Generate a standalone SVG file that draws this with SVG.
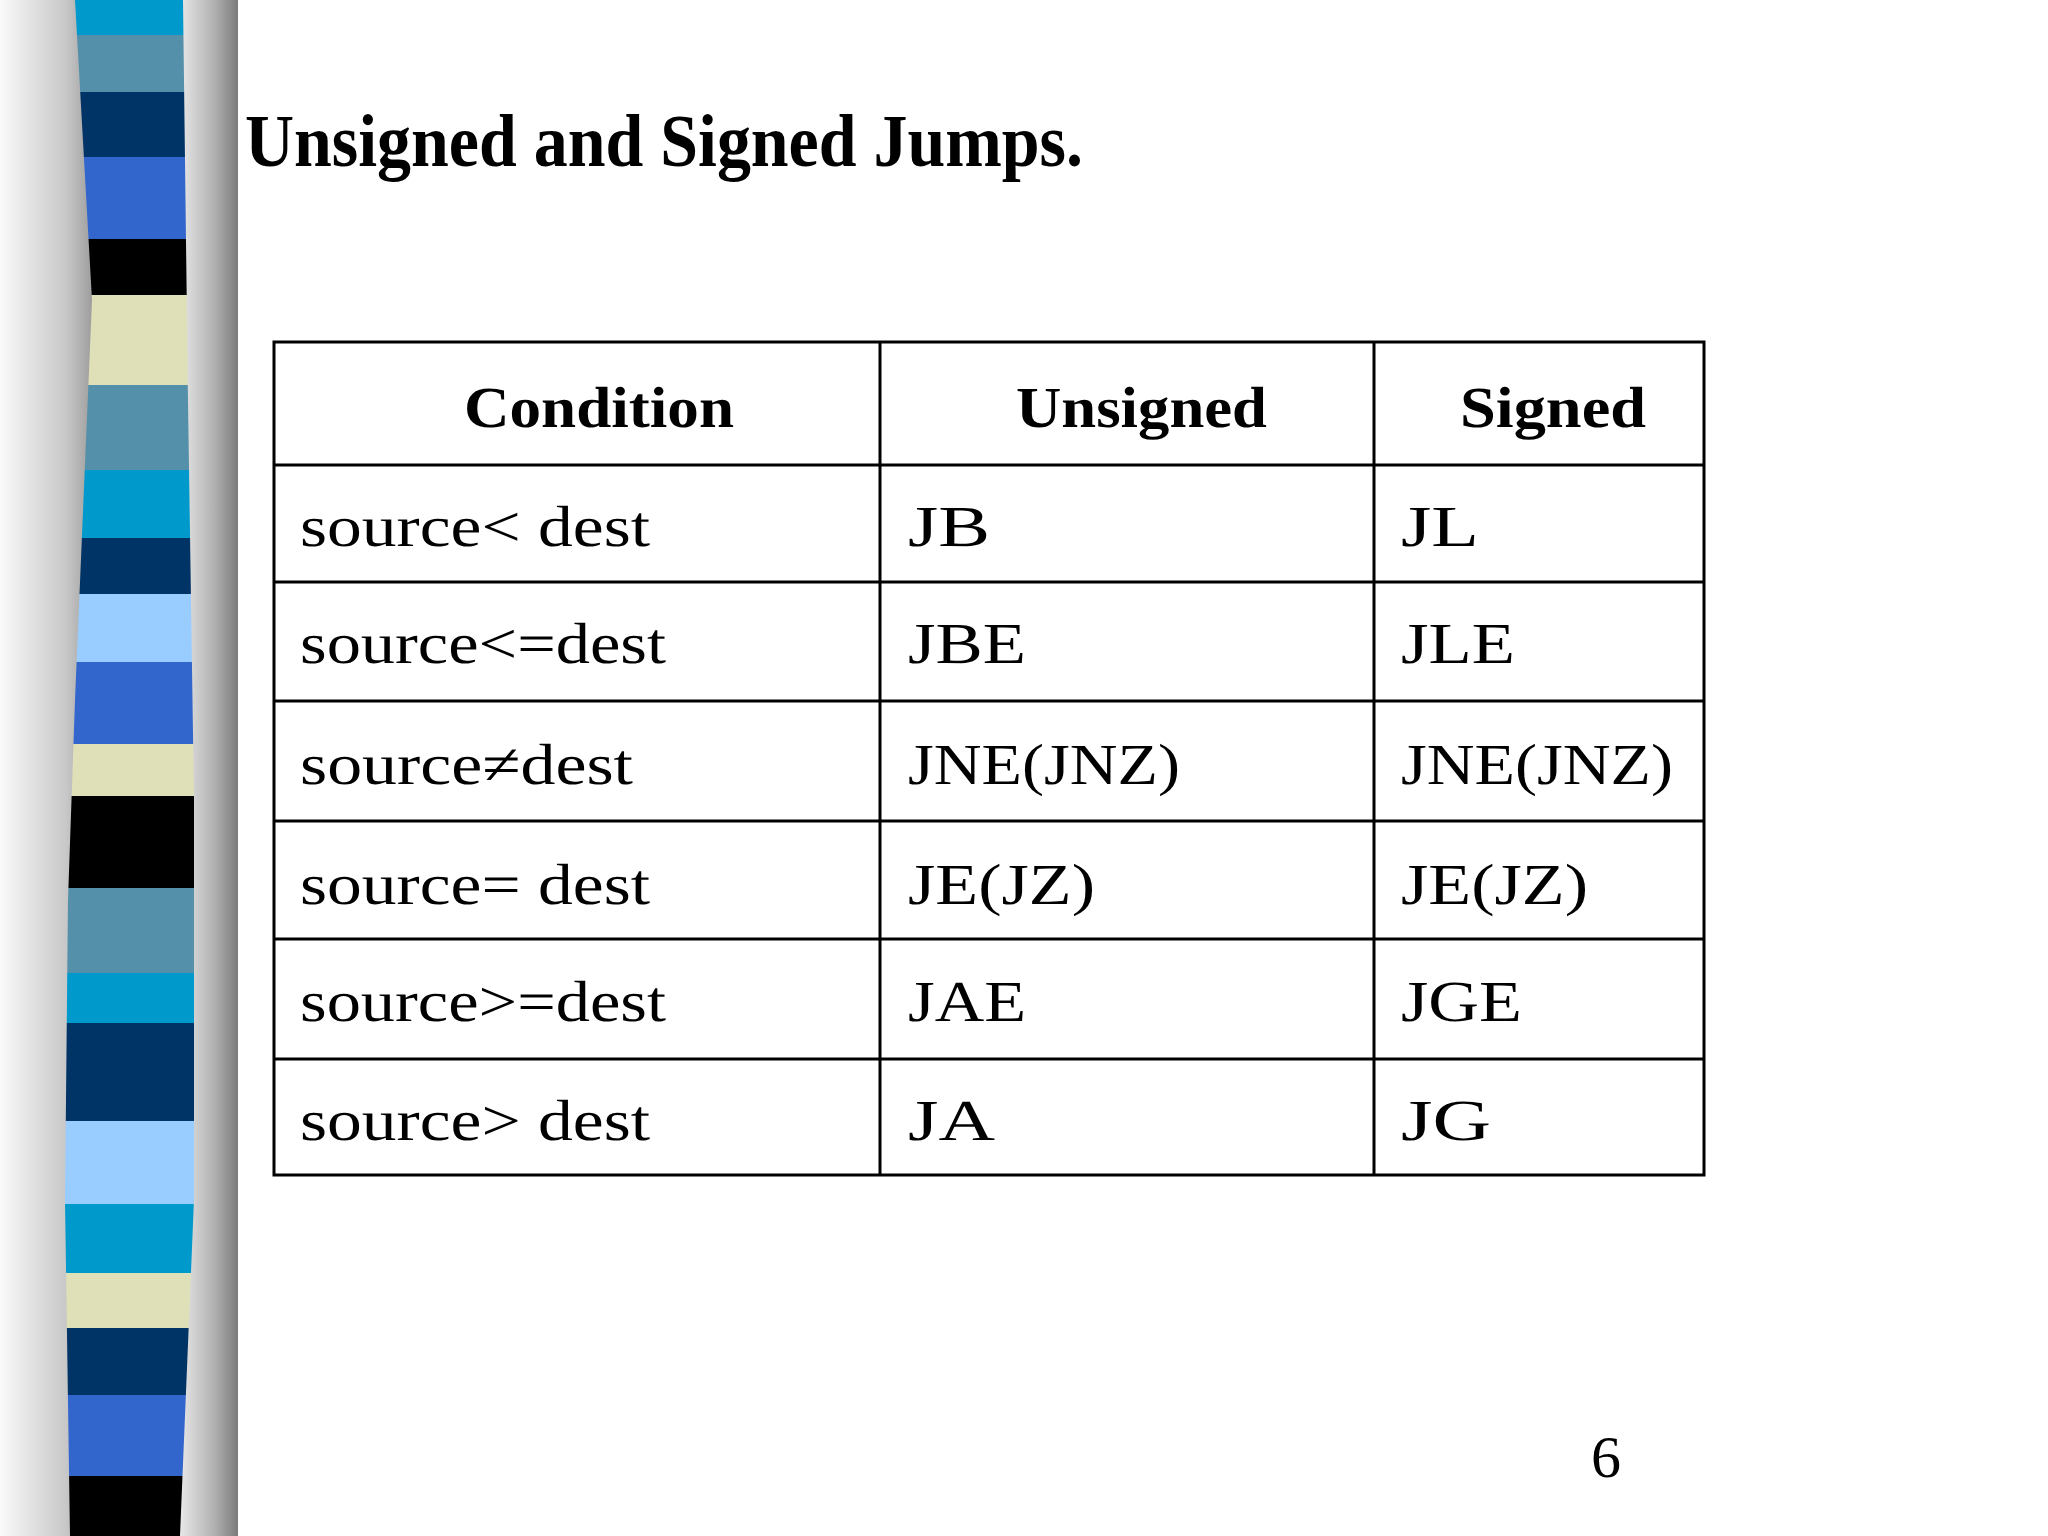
<svg xmlns="http://www.w3.org/2000/svg" width="2048" height="1536" viewBox="0 0 2048 1536">
<defs>
<linearGradient id="gl" x1="0" x2="1" y1="0" y2="0"><stop offset="0" stop-color="#fafafa"/><stop offset="0.6" stop-color="#c8c8c8"/><stop offset="1" stop-color="#808080"/></linearGradient>
<linearGradient id="gr" x1="0" x2="1" y1="0" y2="0"><stop offset="0" stop-color="#e8e8e8"/><stop offset="0.6" stop-color="#b0b0b0"/><stop offset="1" stop-color="#7a7a7a"/></linearGradient>
<clipPath id="sc"><path d="M75,0 L183,0 L188,400 L194,800 L194,1200 L180,1536 L70,1536 L65,1200 L68,900 L75,700 L92,300 Z"/></clipPath>
<style>
.t{font-family:"Liberation Serif",serif;font-size:58px;fill:#000}
.h{font-family:"Liberation Serif",serif;font-size:58px;font-weight:bold;fill:#000}
.g line{stroke:#000;stroke-width:3}
</style>
</defs>
<rect width="2048" height="1536" fill="#fff"/>
<g id="sidebar">
<rect x="0" y="0" width="110" height="1536" fill="url(#gl)"/>
<rect x="180" y="0" width="58" height="1536" fill="url(#gr)"/>
<g clip-path="url(#sc)">
<rect x="0" y="0" width="240" height="35" fill="#0099cc"/>
<rect x="0" y="35" width="240" height="57" fill="#5590aa"/>
<rect x="0" y="92" width="240" height="65" fill="#003366"/>
<rect x="0" y="157" width="240" height="82" fill="#3366cc"/>
<rect x="0" y="239" width="240" height="56" fill="#000"/>
<rect x="0" y="295" width="240" height="90" fill="#e0e0b8"/>
<rect x="0" y="385" width="240" height="85" fill="#5590aa"/>
<rect x="0" y="470" width="240" height="68" fill="#0099cc"/>
<rect x="0" y="538" width="240" height="56" fill="#003366"/>
<rect x="0" y="594" width="240" height="68" fill="#99ccff"/>
<rect x="0" y="662" width="240" height="82" fill="#3366cc"/>
<rect x="0" y="744" width="240" height="52" fill="#e0e0b8"/>
<rect x="0" y="796" width="240" height="92" fill="#000"/>
<rect x="0" y="888" width="240" height="85" fill="#5590aa"/>
<rect x="0" y="973" width="240" height="50" fill="#0099cc"/>
<rect x="0" y="1023" width="240" height="98" fill="#003366"/>
<rect x="0" y="1121" width="240" height="83" fill="#99ccff"/>
<rect x="0" y="1204" width="240" height="69" fill="#0099cc"/>
<rect x="0" y="1273" width="240" height="55" fill="#e0e0b8"/>
<rect x="0" y="1328" width="240" height="67" fill="#003366"/>
<rect x="0" y="1395" width="240" height="81" fill="#3366cc"/>
<rect x="0" y="1476" width="240" height="60" fill="#000"/>
</g>
</g>
<text id="title" x="245" y="166" font-family="Liberation Serif,serif" font-weight="bold" font-size="74" textLength="838" lengthAdjust="spacingAndGlyphs">Unsigned and Signed Jumps.</text>
<g id="table" class="g">
<rect x="274" y="342" width="1430" height="833" fill="none" stroke="#000" stroke-width="3"/>
<line x1="880" y1="342" x2="880" y2="1175"/>
<line x1="1374" y1="342" x2="1374" y2="1175"/>
<line x1="274" y1="465" x2="1704" y2="465"/>
<line x1="274" y1="582" x2="1704" y2="582"/>
<line x1="274" y1="701" x2="1704" y2="701"/>
<line x1="274" y1="821" x2="1704" y2="821"/>
<line x1="274" y1="939" x2="1704" y2="939"/>
<line x1="274" y1="1059" x2="1704" y2="1059"/>
</g>
<g id="cells" text-rendering="geometricPrecision">
<text class="h" x="464" y="427" textLength="270" lengthAdjust="spacingAndGlyphs">Condition</text>
<text class="h" x="1016" y="427" textLength="251" lengthAdjust="spacingAndGlyphs">Unsigned</text>
<text class="h" x="1460" y="427" textLength="186" lengthAdjust="spacingAndGlyphs">Signed</text>
<text class="t" x="300" y="546" textLength="350" lengthAdjust="spacingAndGlyphs">source&lt; dest</text>
<text class="t" x="300" y="663" textLength="366" lengthAdjust="spacingAndGlyphs">source&lt;=dest</text>
<text class="t" x="300" y="784" textLength="333" lengthAdjust="spacingAndGlyphs">source≠dest</text>
<text class="t" x="300" y="904" textLength="350" lengthAdjust="spacingAndGlyphs">source= dest</text>
<text class="t" x="300" y="1021" textLength="366" lengthAdjust="spacingAndGlyphs">source&gt;=dest</text>
<text class="t" x="300" y="1140" textLength="350" lengthAdjust="spacingAndGlyphs">source&gt; dest</text>
<text class="t" x="908" y="546" textLength="82" lengthAdjust="spacingAndGlyphs">JB</text>
<text class="t" x="908" y="663" textLength="118" lengthAdjust="spacingAndGlyphs">JBE</text>
<text class="t" x="908" y="784" textLength="272" lengthAdjust="spacingAndGlyphs">JNE(JNZ)</text>
<text class="t" x="908" y="904" textLength="187" lengthAdjust="spacingAndGlyphs">JE(JZ)</text>
<text class="t" x="908" y="1021" textLength="118" lengthAdjust="spacingAndGlyphs">JAE</text>
<text class="t" x="908" y="1140" textLength="87" lengthAdjust="spacingAndGlyphs">JA</text>
<text class="t" x="1401" y="546" textLength="78" lengthAdjust="spacingAndGlyphs">JL</text>
<text class="t" x="1401" y="663" textLength="114" lengthAdjust="spacingAndGlyphs">JLE</text>
<text class="t" x="1401" y="784" textLength="272" lengthAdjust="spacingAndGlyphs">JNE(JNZ)</text>
<text class="t" x="1401" y="904" textLength="187" lengthAdjust="spacingAndGlyphs">JE(JZ)</text>
<text class="t" x="1401" y="1021" textLength="121" lengthAdjust="spacingAndGlyphs">JGE</text>
<text class="t" x="1401" y="1140" textLength="90" lengthAdjust="spacingAndGlyphs">JG</text>
</g>
<text id="page" x="1591" y="1477" font-family="Liberation Serif,serif" font-size="60">6</text>
</svg>
